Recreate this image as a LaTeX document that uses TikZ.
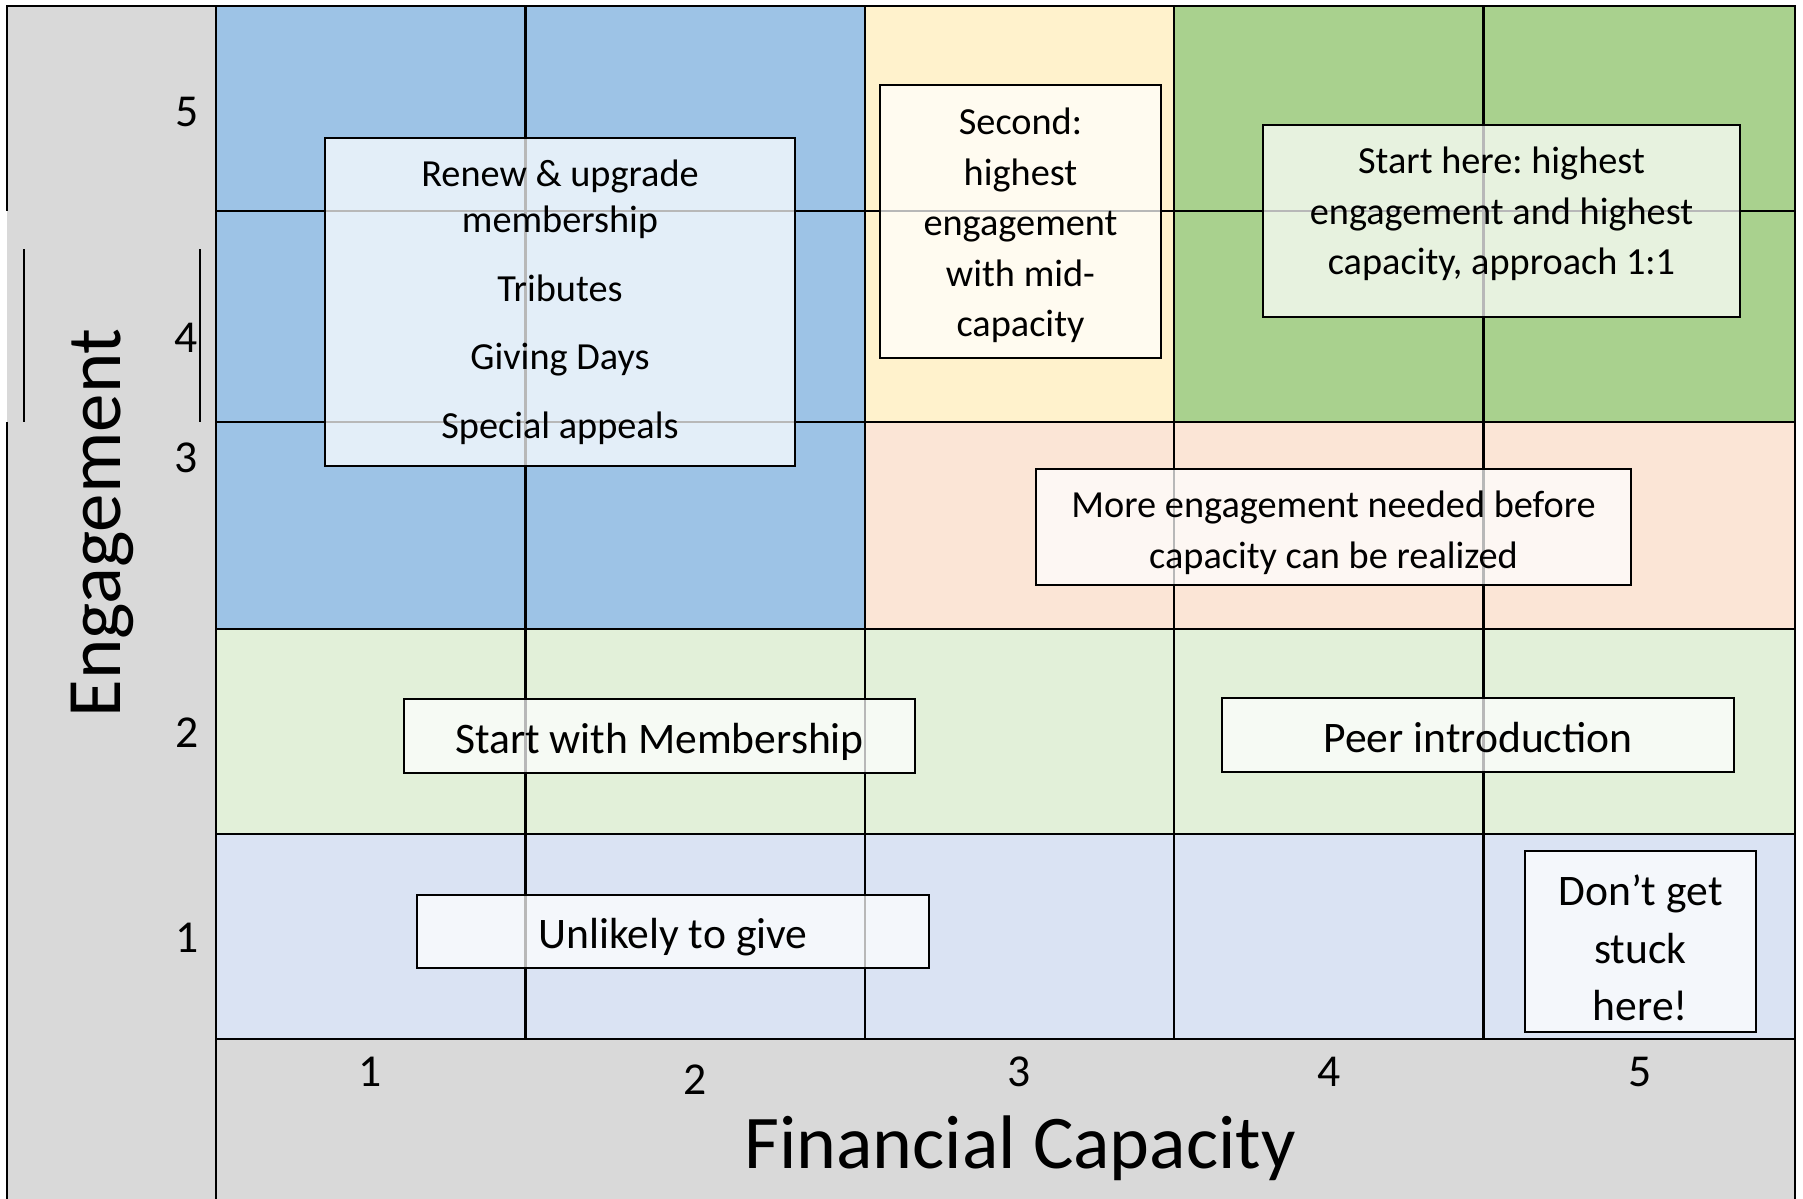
\documentclass[tikz,border=0pt]{standalone}
\usepackage{fontspec}
\setmainfont{Carlito}
\frenchspacing

\definecolor{cinza}{HTML}{D9D9D9}
\definecolor{azul}{HTML}{9DC3E6}
\definecolor{amarelo}{HTML}{FFF2CC}
\definecolor{verde}{HTML}{A9D18E}
\definecolor{salmao}{HTML}{FBE5D6}
\definecolor{verdeclaro}{HTML}{E2F0D9}
\definecolor{azulclaro}{HTML}{DAE3F3}

\begin{document}
\begin{tikzpicture}
    % Estilos
    \tikzstyle{grade}=[line width=0.65pt]
    \tikzstyle{caixa}=[draw, line width=0.75pt, fill=white, fill opacity=0.72, inner sep=0pt]
    \tikzstyle{texto}=[align=center, font=\fontsize{10.9}{14.4}\selectfont]
    \tikzstyle{grande}=[align=center, font=\fontsize{12.4}{16.4}\selectfont]
    \tikzstyle{marca}=[font=\fontsize{13}{15}\selectfont]

    \useasboundingbox (0,0) rectangle (18.03,11.99);

    % Fundo e células
    \fill[cinza] (0.07,0) rectangle (17.95,11.93);
    \fill[azul] (2.16,5.70) rectangle (8.65,11.93);
    \fill[amarelo] (8.65,7.77) rectangle (11.74,11.93);
    \fill[verde] (11.74,7.77) rectangle (17.95,11.93);
    \fill[salmao] (8.65,5.70) rectangle (17.95,7.77);
    \fill[verdeclaro] (2.16,3.65) rectangle (17.95,5.70);
    \fill[azulclaro] (2.16,1.60) rectangle (17.95,3.65);

    % Grade
    \foreach \x in {5.255,8.65,11.74,14.835}
        \draw[grade] (\x,1.60) -- (\x,11.93);
    \foreach \y in {1.60,3.65,5.70,7.77,9.88}
        \draw[grade] (2.16,\y) -- (17.95,\y);
    \draw[grade] (2.16,0) -- (2.16,11.93);
    \draw[grade] (0.07,9.88) -- (0.07,11.93) -- (17.95,11.93) -- (17.95,0);
    \draw[grade] (0.07,7.77) -- (0.07,0);
    \draw[grade] (0.24,7.77) -- (0.24,9.50);
    \draw[grade] (2.00,7.77) -- (2.00,9.50);

    % Caixas
    \node[caixa, minimum width=4.70cm, minimum height=3.28cm] (renovar) at (5.60,8.97) {};
    \node[caixa, minimum width=2.81cm, minimum height=2.73cm] (segundo) at (10.205,9.775) {};
    \node[caixa, minimum width=4.77cm, minimum height=1.92cm] (comece) at (15.015,9.78) {};
    \node[caixa, minimum width=5.95cm, minimum height=1.16cm] (engajar) at (13.335,6.72) {};
    \node[caixa, minimum width=5.11cm, minimum height=0.74cm] (membros) at (6.595,4.63) {};
    \node[caixa, minimum width=5.12cm, minimum height=0.74cm] (pares) at (14.78,4.64) {};
    \node[caixa, minimum width=5.12cm, minimum height=0.73cm] (improvavel) at (6.73,2.675) {};
    \node[caixa, minimum width=2.31cm, minimum height=1.81cm] (preso) at (16.405,2.575) {};

    % Textos das caixas
    \node[texto, font=\fontsize{10.9}{13.2}\selectfont] (t-renovar) at (renovar)
        {Renew \& upgrade\\membership\\[6.3pt]Tributes\\[6.3pt]Giving Days\\[6.3pt]Special appeals};
    \node[texto] (t-segundo) at (segundo) [yshift=-0.04cm] {Second:\\highest\\engagement\\with mid-\\capacity};
    \node[texto] (t-comece) at (comece) [yshift=0.07cm] {Start here: highest\\engagement and highest\\capacity, approach 1:1};
    \node[texto] (t-engajar) at (engajar) [yshift=-0.06cm] {More engagement needed before\\capacity can be realized};
    \node[grande] (t-membros) at (membros) [yshift=-0.06cm] {Start with Membership};
    \node[grande] (t-pares) at (pares) [yshift=-0.025cm] {Peer introduction};
    \node[grande] (t-improvavel) at (improvavel) [yshift=-0.06cm] {Unlikely to give};
    \node[grande] (t-preso) at (preso) [yshift=-0.065cm] {Don’t get\\stuck\\here!};

    % Eixo vertical
    \node[marca] (y5) at (1.87,10.87) {5};
    \node[marca] (y4) at (1.86,8.61) {4};
    \node[marca] (y3) at (1.86,7.41) {3};
    \node[marca] (y2) at (1.87,4.66) {2};
    \node[marca] (y1) at (1.87,2.61) {1};
    \node[font=\fontsize{21.9}{24}\selectfont, rotate=90, anchor=base] (engajamento) at (1.20,6.76) {Engagement};

    % Eixo horizontal
    \node[marca] (x1) at (3.70,1.27) {1};
    \node[marca] (x2) at (6.95,1.19) {2};
    \node[marca] (x3) at (10.19,1.27) {3};
    \node[marca] (x4) at (13.29,1.27) {4};
    \node[marca] (x5) at (16.40,1.27) {5};
    \node[font=\fontsize{21.6}{24}\selectfont, anchor=base] (capacidade) at (10.20,0.30) {Financial Capacity};
\end{tikzpicture}
\end{document}
